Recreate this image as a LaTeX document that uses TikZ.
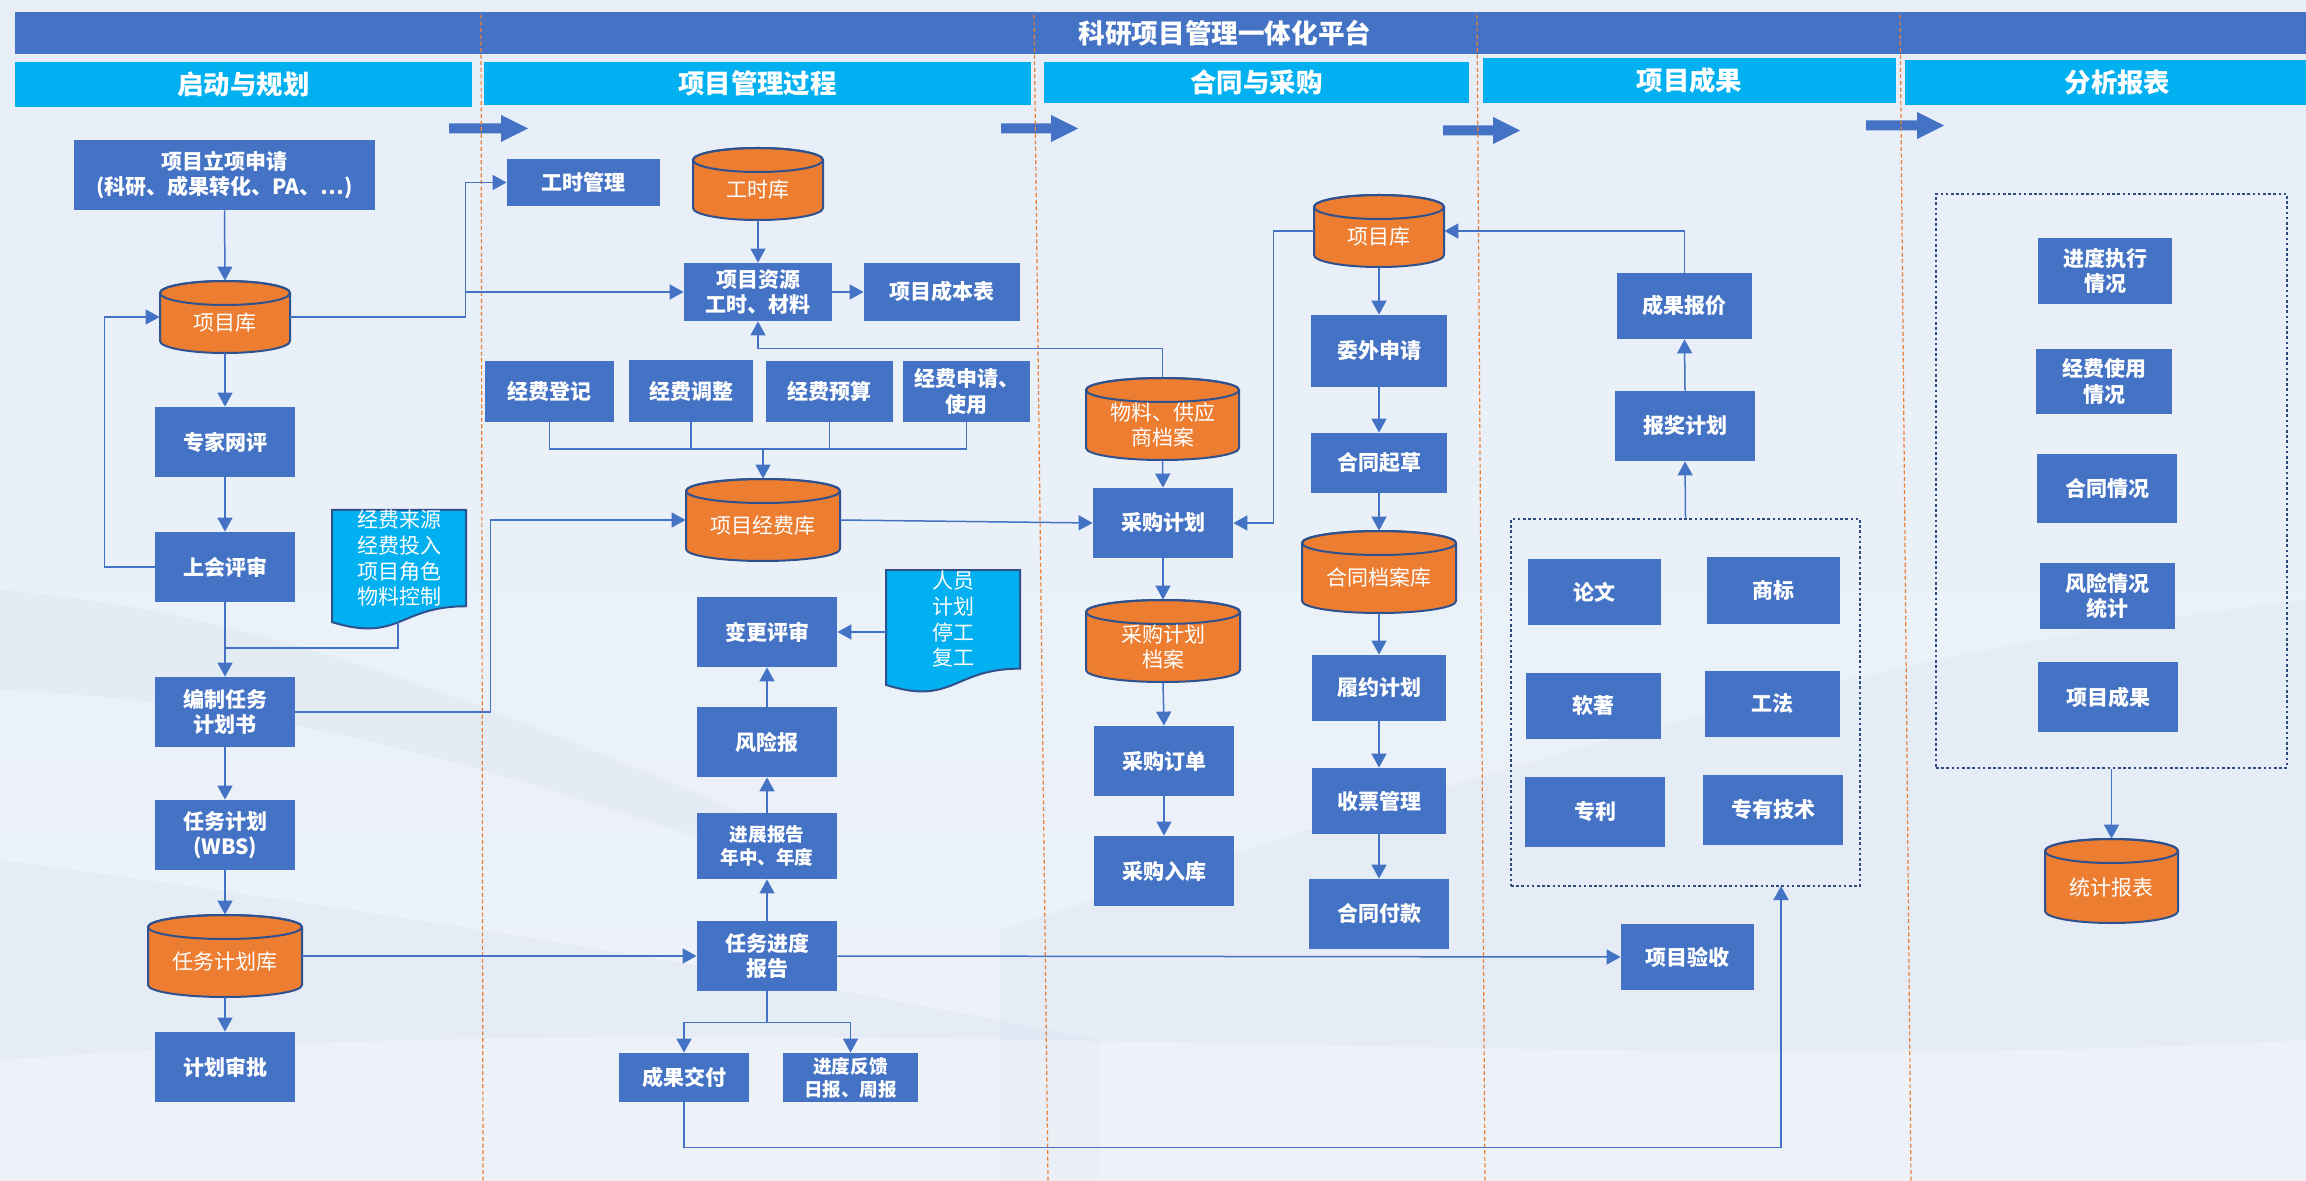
\documentclass[tikz,border=0pt]{standalone}
\usepackage{fontspec}
\setmainfont{Noto Sans CJK SC}
\usetikzlibrary{arrows.meta}

\definecolor{boxblue}{HTML}{4472C4}
\definecolor{hdrcyan}{HTML}{00B0F0}
\definecolor{cylorange}{HTML}{ED7D31}
\definecolor{cylnavy}{HTML}{2F528F}
\definecolor{sepor}{HTML}{ED7D31}
\definecolor{dotnavy}{HTML}{2F4B7C}
\definecolor{bgtop}{HTML}{E7EEF8}
\definecolor{bgbot}{HTML}{EEF3F9}
\definecolor{wavec}{HTML}{D6E1EF}

\tikzset{
  box/.style={rectangle,fill=boxblue,text=white,align=center,inner sep=0pt,
    font=\bfseries\fontsize{10.5}{12.8}\selectfont},
  smallbox/.style={font=\bfseries\fontsize{9.3}{11.6}\selectfont},
  hdr/.style={fill=hdrcyan,font=\bfseries\fontsize{13.2}{15}\selectfont},
  dotbox/.style={fill=none,draw=dotnavy,line width=1.4pt,dash pattern=on 1.3pt off 1.3pt},
  cylline/.style={draw=cylnavy,line width=1pt},
  cyltext/.style={text=white,align=center,inner sep=0pt,font=\fontsize{10.5}{12.8}\selectfont},
  noteline/.style={draw=cylnavy,line width=1pt,fill=hdrcyan},
  notetext/.style={text=white,align=center,inner sep=0pt,font=\fontsize{10.5}{12.9}\selectfont},
  link/.style={draw=boxblue,line width=0.75pt},
  arr/.style={link,-{Triangle[width=7.5pt,length=7pt]}},
  sepline/.style={draw=sepor,line width=0.6pt,dash pattern=on 2pt off 1.3pt},
}

% rectangle node from its corners (x1,y1)-(x2,y2), in pixel units
\newcommand\bx[7][]{%
  \pgfmathsetmacro\bxw{(#5-#3)*0.5}%
  \pgfmathsetmacro\bxh{(#6-#4)*0.5}%
  \node[box,minimum width=\bxw pt,minimum height=\bxh pt,#1] (#2) at ({(#3+#5)/2},{(#4+#6)/2}) {#7};}

% database cylinder: name, x1, y1, x2, y2, label
\newcommand\dbcyl[6]{%
  \pgfmathsetmacro\cylcx{(#2+#4)/2}%
  \pgfmathsetmacro\cylrx{(#4-#2)*0.25}%
  \pgfmathsetmacro\cylw{(#4-#2)*0.5}%
  \pgfmathsetmacro\cylh{(#5-#3)*0.5}%
  \pgfmathsetmacro\cylty{(#3+12+#5)/2}%
  \draw[cylline,fill=cylorange] (#2,#3+12) -- (#2,#5-12)
    arc[start angle=180,end angle=360,x radius=\cylrx pt,y radius=6pt]
    -- (#4,#3+12)
    arc[start angle=0,end angle=180,x radius=\cylrx pt,y radius=6pt] -- cycle;
  \draw[cylline] (\cylcx,#3+12) ellipse[x radius=\cylrx pt,y radius=6pt];
  \node[inner sep=0pt,minimum width=\cylw pt,minimum height=\cylh pt] (#1) at (\cylcx,{(#3+#5)/2}) {};
  \node[cyltext] (#1-t) at (\cylcx,\cylty) {#6};}

% document note with wavy lower edge: name, x1, y1, x2, total height, text
\newcommand\docnote[6]{%
  \pgfmathsetmacro\notew{#4-#2}%
  \draw[noteline] (#2,#3) -- (#4,#3) -- (#4,{#3+0.802*#5})
    .. controls ({#2+0.5*\notew},{#3+0.802*#5}) and ({#2+0.5*\notew},{#3+1.107*#5}) .. (#2,{#3+0.934*#5}) -- cycle;
  \node[notetext] (#1) at ({(#2+#4)/2},{#3+0.401*#5}) {#6};}

% broad flow arrow: x start, x tip, y middle
\newcommand\flowarrow[3]{%
  \fill[boxblue] (#1,#3-5) -- (#2-27,#3-5) -- (#2-27,#3-13.5) -- (#2,#3)
    -- (#2-27,#3+13.5) -- (#2-27,#3+5) -- (#1,#3+5) -- cycle;}

\begin{document}
\begin{tikzpicture}[x=0.5pt,y=-0.5pt]
\useasboundingbox (0,0) rectangle (2306,1181);

% background
\shade[top color=bgtop,bottom color=bgbot] (0,0) rectangle (2306,1181);
\fill[wavec,opacity=0.35] (0,590) .. controls (250,610) and (480,700) .. (760,820)
  -- (760,860) .. controls (480,760) and (250,700) .. (0,690) -- cycle;
\fill[wavec,opacity=0.3] (0,860) .. controls (300,900) and (700,960) .. (1100,1040)
  -- (1100,1181) -- (0,1181) -- cycle;
\fill[wavec,opacity=0.3] (1000,930) .. controls (1400,800) and (1800,660) .. (2306,600)
  -- (2306,1181) -- (1000,1181) -- cycle;
\fill[white,opacity=0.3] (0,1060) .. controls (800,1000) and (1600,1080) .. (2306,1040)
  -- (2306,1181) -- (0,1181) -- cycle;

% title bar and lane headers
\bx{tbar}{15}{12}{2306}{54}{}
\node[text=white,font=\bfseries\fontsize{13.3}{15}\selectfont] (ttl) at (1225,33) {科研项目管理一体化平台};
\bx[hdr]{h1}{15}{62}{472}{107}{启动与规划}
\bx[hdr]{h2}{484}{62}{1031}{105}{项目管理过程}
\bx[hdr]{h3}{1044}{62}{1469}{103}{合同与采购}
\bx[hdr]{h4}{1483}{58}{1896}{103}{项目成果}
\bx[hdr]{h5}{1905}{60}{2306}{105}{\hspace*{12pt}分析报表}

% flow arrows between lanes
\flowarrow{449}{528}{128.5}
\flowarrow{1001}{1078}{128.5}
\flowarrow{1443}{1520}{130.5}
\flowarrow{1866}{1944}{125.5}

% lane separators
\draw[sepline] (481,15) -- (483,1181);
\draw[sepline] (1034,15) -- (1048,1181);
\draw[sepline] (1477,15) -- (1485,1181);
\draw[sepline] (1900,15) -- (1911,1181);

% lane 1: start and planning
\bx{app}{74}{140}{375}{210}{项目立项申请\\(科研、成果转化、PA、…)}
\dbcyl{pk1}{160}{281}{290}{353}{项目库}
\bx{zjwp}{155}{407}{295}{477}{专家网评}
\bx{shps}{155}{532}{295}{602}{上会评审}
\docnote{n1}{332}{510}{466}{120}{经费来源\\经费投入\\项目角色\\物料控制}
\bx{bzjh}{155}{677}{295}{747}{编制任务\\计划书}
\bx{rwjh}{155}{800}{295}{870}{任务计划\\(WBS)}
\dbcyl{rwk}{148}{915}{302}{997}{任务计划库}
\bx{jhsp}{155}{1032}{295}{1102}{计划审批}

% lane 2: project management process
\bx{gsgl}{507}{159}{660}{206}{工时管理}
\dbcyl{gsk}{693}{148}{823}{220}{工时库}
\bx{xmzy}{684}{263}{832}{321}{项目资源\\工时、材料}
\bx{cbb}{864}{263}{1020}{321}{项目成本表}
\bx{jf1}{485}{361}{614}{422}{经费登记}
\bx{jf2}{629}{360}{753}{422}{经费调整}
\bx{jf3}{766}{361}{893}{422}{经费预算}
\bx{jf4}{903}{361}{1030}{422}{经费申请、\\使用}
\dbcyl{jfk}{686}{479}{840}{561}{项目经费库}
\bx{bgps}{697}{597}{837}{667}{变更评审}
\docnote{n2}{886}{570}{1020}{123}{人员\\计划\\停工\\复工}
\bx{fxb}{697}{707}{837}{777}{风险报}
\bx[smallbox]{jzbg}{697}{813}{837}{879}{进展报告\\年中、年度}
\bx{rwjd}{697}{921}{837}{991}{任务进度\\报告}
\bx{cgjf}{619}{1053}{749}{1102}{成果交付}
\bx[smallbox]{jdfk}{783}{1053}{918}{1102}{进度反馈\\日报、周报}

% lane 3: contracts and purchasing
\dbcyl{wlk}{1086}{378}{1239}{460}{物料、供应\\商档案}
\bx{cgjh}{1093}{488}{1233}{558}{采购计划}
\dbcyl{cgda}{1086}{600}{1240}{682}{采购计划\\档案}
\bx{cgdd}{1094}{726}{1234}{796}{采购订单}
\bx{cgrk}{1094}{836}{1234}{906}{采购入库}
\dbcyl{pk3}{1314}{195}{1444}{267}{项目库}
\bx{wwsq}{1311}{315}{1447}{387}{委外申请}
\bx{htqc}{1311}{433}{1447}{493}{合同起草}
\dbcyl{htk}{1302}{531}{1456}{613}{合同档案库}
\bx{lyjh}{1312}{655}{1446}{721}{履约计划}
\bx{spgl}{1312}{768}{1446}{834}{收票管理}
\bx{htfk}{1309}{879}{1449}{949}{合同付款}

% lane 4: project results
\bx{cgbj}{1617}{273}{1752}{339}{成果报价}
\bx{bjjh}{1615}{391}{1755}{461}{报奖计划}
\bx[dotbox]{cgbox}{1511}{519}{1860}{886}{}
\bx{lw}{1528}{559}{1661}{625}{论文}
\bx{sb}{1707}{557}{1840}{624}{商标}
\bx{rz}{1526}{673}{1661}{739}{软著}
\bx{gf}{1705}{671}{1840}{737}{工法}
\bx{zl}{1525}{777}{1665}{847}{专利}
\bx{zyjs}{1703}{775}{1843}{845}{专有技术}
\bx{ysh}{1621}{924}{1754}{990}{项目验收}

% lane 5: analysis reports
\bx[dotbox]{ftbox}{1936}{194}{2287}{768}{}
\bx{r1}{2038}{238}{2172}{304}{进度执行\\情况}
\bx{r2}{2036}{349}{2172}{414}{经费使用\\情况}
\bx{r3}{2037}{454}{2177}{523}{合同情况}
\bx{r4}{2040}{563}{2175}{629}{风险情况\\统计}
\bx{r5}{2038}{662}{2178}{732}{项目成果}
\dbcyl{tjbb}{2045}{839}{2178}{923}{统计报表}

% connectors, lane 1
\draw[arr] (app.south) -- (pk1.north);
\draw[arr] (pk1.south) -- (zjwp.north);
\draw[arr] (zjwp.south) -- (shps.north);
\draw[arr] (shps.south) -- (bzjh.north);
\draw[arr] (shps.west) -- ++(-50,0) |- (pk1.west);
\coordinate (n1b) at (398,622);
\coordinate (mg1) at (225,648);
\draw[link] (n1b) |- (mg1);
\draw[arr] (bzjh.south) -- (rwjh.north);
\draw[arr] (rwjh.south) -- (rwk.north);
\draw[arr] (rwk.south) -- (jhsp.north);
\draw[arr] (bzjh.east) -- ++(195,0) |- (jfk.west);
\draw[arr] (rwk.east) -- (rwjd.west);
\draw[arr] (pk1.east) -- ++(175,0) |- (gsgl.west);
\coordinate (jn1) at (465,292);
\draw[arr] (jn1) -- (xmzy.west);

% connectors, lane 2
\draw[arr] (gsk.south) -- (xmzy.north);
\draw[arr] (xmzy.east) -- (cbb.west);
\coordinate (bus) at (763,449);
\draw[link] (jf1.south) |- (bus) -| (jf4.south);
\draw[link] (jf2.south) -- (jf2.south |- bus);
\draw[link] (jf3.south) -- (jf3.south |- bus);
\draw[arr] (bus) -- (jfk.north);
\draw[arr] (wlk.north) -- ++(0,-29) -| (xmzy.south);
\draw[arr] (rwjd.north) -- (jzbg.south);
\draw[arr] (jzbg.north) -- (fxb.south);
\draw[arr] (fxb.north) -- (bgps.south);
\coordinate (n2w) at (886,632);
\draw[arr] (n2w) -- (bgps.east);
\draw[link] (rwjd.south) -- ++(0,31) coordinate (sp);
\draw[arr] (sp) -| (cgjf.north);
\draw[arr] (sp) -| (jdfk.north);
\coordinate (cgin) at (1781,886);
\draw[arr] (cgjf.south) -- ++(0,45) -| (cgin);
\draw[arr] (rwjd.east) -- (ysh.west);

% connectors, lane 3
\draw[arr] (wlk.south) -- (cgjh.north);
\draw[arr] (jfk.east) -- (cgjh.west);
\draw[arr] (cgjh.south) -- (cgda.north);
\draw[arr] (cgda.south) -- (cgdd.north);
\draw[arr] (cgdd.south) -- (cgrk.north);
\draw[arr] (pk3.west) -- ++(-40,0) |- (cgjh.east);
\draw[arr] (pk3.south) -- (wwsq.north);
\draw[arr] (wwsq.south) -- (htqc.north);
\draw[arr] (htqc.south) -- (htk.north);
\draw[arr] (htk.south) -- (lyjh.north);
\draw[arr] (lyjh.south) -- (spgl.north);
\draw[arr] (spgl.south) -- (htfk.north);

% connectors, lanes 4 and 5
\draw[arr] (cgbj.north) |- (pk3.east);
\draw[arr] (bjjh.north) -- (cgbj.south);
\draw[arr] (cgbox.north) -- (bjjh.south);
\draw[arr] (ftbox.south) -- (tjbb.north);
\end{tikzpicture}
\end{document}
